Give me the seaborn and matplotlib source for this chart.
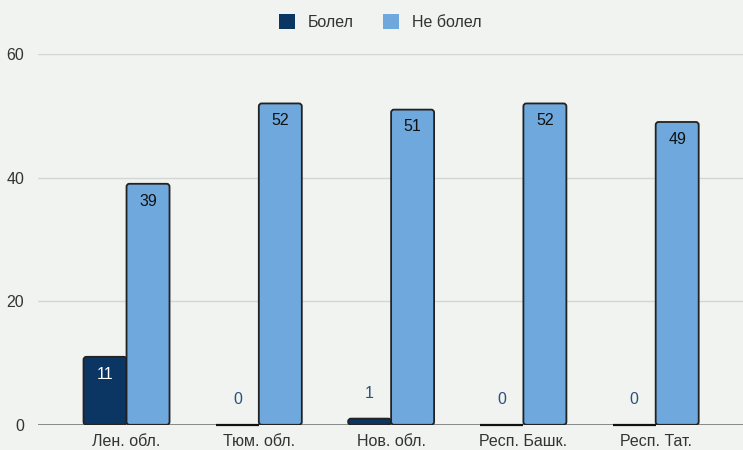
import matplotlib
matplotlib.use("Agg")
import matplotlib.pyplot as plt
from matplotlib.patches import FancyBboxPatch
import seaborn as sns
import pandas as pd

regions = ["Лен. обл.", "Тюм. обл.", "Нов. обл.", "Респ. Башк.", "Респ. Тат."]
sick = [11, 0, 1, 0, 0]
not_sick = [39, 52, 51, 52, 49]
series = ["Болел", "Не болел"]
colors = ["#0b3562", "#6fa8dc"]

df = pd.DataFrame({
    "region": regions * 2,
    "value": sick + not_sick,
    "group": [series[0]] * len(regions) + [series[1]] * len(regions),
})

sns.set_style("white")
plt.rcParams["font.family"] = ["Liberation Sans", "DejaVu Sans"]

bg = "#f0f3ef"
fig = plt.figure(figsize=(7.43, 4.5), dpi=100, facecolor=bg)
ax = fig.add_axes([0.051, 0.056, 0.949, 0.824], facecolor=bg)

sns.barplot(data=df, x="region", y="value", hue="group", palette=colors, saturation=1,
            width=0.65, edgecolor="#222222", linewidth=1.3, ax=ax, legend=False, zorder=2)

ax.set_ylim(0, 60)
ax.set_xlim(-0.67, 4.66)
ax.set_yticks([0, 20, 40, 60])
for y in [20, 40, 60]:
    ax.axhline(y, color="#d4d6d4", lw=1, zorder=0)
ax.axhline(0, color="#777777", lw=1.2, zorder=1)
for s in ax.spines.values():
    s.set_visible(False)
ax.tick_params(axis="both", length=0, labelsize=11.5, colors="#333333")
ax.tick_params(axis="y", pad=10)
ax.tick_params(axis="x", pad=6.5)
ax.set_xlabel("")
ax.set_ylabel("")

# rounded tops for the taller bars
for cont in ax.containers:
    for bar in cont:
        if bar.get_height() >= 0.8:
            fb = FancyBboxPatch((bar.get_x(), 0), bar.get_width(), bar.get_height(),
                                boxstyle="round,pad=0,rounding_size=0.022", mutation_aspect=22,
                                facecolor=bar.get_facecolor(), edgecolor="#222222",
                                linewidth=1.3, zorder=2)
            ax.add_patch(fb)
            bar.set_visible(False)
        else:
            bar.set_linewidth(1.6)
            bar.set_edgecolor("#111111")
            bar.set_zorder(3)
            bar.set_clip_on(False)

# value labels
for cont, txtcol in zip(ax.containers, ["white", "#111111"]):
    for bar in cont:
        h = bar.get_height()
        xc = bar.get_x() + bar.get_width() / 2
        if h >= 5:
            ax.annotate(f"{int(round(h))}", (xc, h), xytext=(0, -12.5), textcoords="offset points",
                        ha="center", va="center", fontsize=11.5, color=txtcol, zorder=4)
        else:
            ax.annotate(f"{int(round(h))}", (xc, h), xytext=(0, 18), textcoords="offset points",
                        ha="center", va="center", fontsize=11.5, color="#2b4f80", zorder=4)

handles = [plt.Rectangle((0, 0), 1, 1, facecolor=c, edgecolor="none") for c in colors]
fig.legend(handles, series, loc="upper center", bbox_to_anchor=(0.512, 1.0), ncol=2,
           frameon=False, fontsize=11.5, handlelength=1.0, handleheight=1.0,
           columnspacing=1.8, handletextpad=0.8, labelcolor="#333333")

fig.savefig("out.png", dpi=100, facecolor=bg)
